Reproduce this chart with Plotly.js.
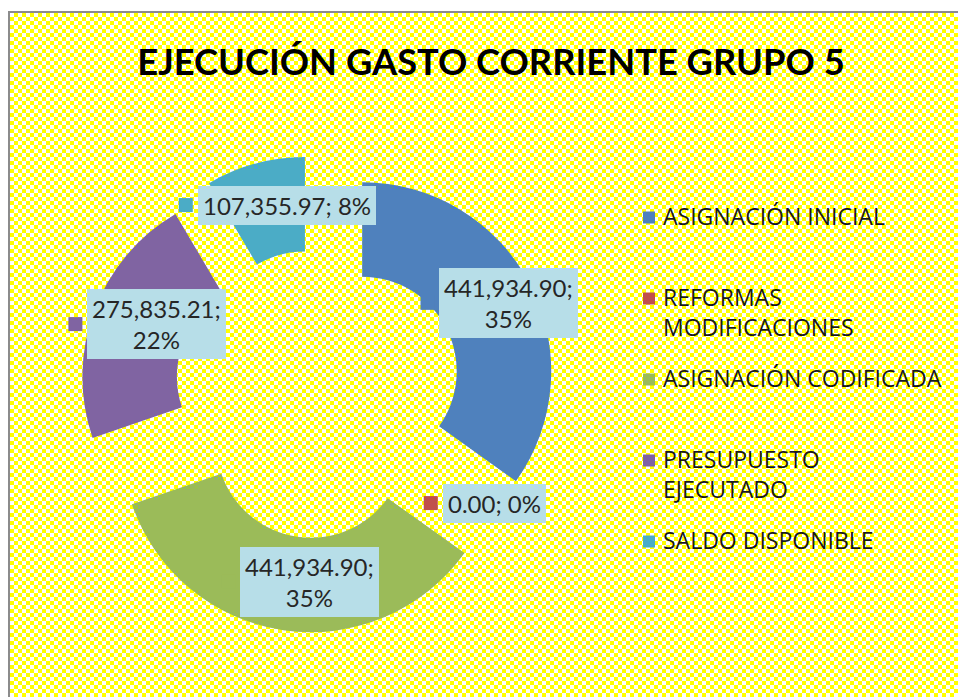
<!DOCTYPE html>
<html><head><meta charset="utf-8">
<script src="https://cdn.plot.ly/plotly-3.0.1.min.js"></script>
<style>
html,body{margin:0;padding:0;background:#fff;overflow:hidden;width:958px;height:697px;}
#bg{position:absolute;left:8px;top:11px;width:980px;height:720px;border-left:2px solid #8c8c8c;border-top:2px solid #8c8c8c;
background-color:#fff;background-image:repeating-conic-gradient(#ffff00 0 25%, #ffffff 0 50%);background-size:8px 8px;}
#chart{position:absolute;left:0;top:0;width:958px;height:697px;}
#chart .legendtext{transform:translateX(-6px);font-size:23px !important;}
#chart .legend .scrollbox{clip-path:none !important;}
</style></head><body><div id="bg"></div><div id="chart"></div>
<script>
// ---- data ----
const categories = ["ASIGNACIÓN INICIAL", "REFORMAS MODIFICACIONES", "ASIGNACIÓN CODIFICADA", "PRESUPUESTO EJECUTADO", "SALDO DISPONIBLE"];
const legendLines = [["ASIGNACIÓN INICIAL"], ["REFORMAS", "MODIFICACIONES"], ["ASIGNACIÓN CODIFICADA"], ["PRESUPUESTO", "EJECUTADO"], ["SALDO DISPONIBLE"]];
const values = [441934.90, 0.00, 441934.90, 275835.21, 107355.97];
const colors = ["#4F81BD", "#C0504D", "#9BBB59", "#8064A2", "#4BACC6"];
const titleText = "EJECUCIÓN GASTO CORRIENTE GRUPO 5";

// ---- layout constants ----
const W = 958, H = 697;
const CX = 318, CY = 394, R = 189, PULL = 0.263, HOLE = 0.5;
const FONT = "Lato, 'Open Sans', sans-serif";
const LEGEND_FONT = "'Open Sans', Lato, sans-serif";
const LABEL_SIZE = 24, PAD = 5, SQ = 14, GAP = 5;
const LABEL_R = 143, LABEL_DX = 10, LABEL_DY = -3;
const LEGEND_SLOT_LINES = 3;

const total = values.reduce((a, b) => a + b, 0);
const fmt = v => v.toLocaleString('en-US', {minimumFractionDigits: 2, maximumFractionDigits: 2});
const half = R * (1 + PULL);

const legendLabels = legendLines.map(ls => {
  const l = ls.slice();
  while (l.length < LEGEND_SLOT_LINES) l.push(' ');
  return l.join('<br>');
});

const pie = {
  type: 'pie', values: values, labels: legendLabels, sort: false, direction: 'clockwise', rotation: 0,
  hole: HOLE, pull: values.map(() => PULL), textinfo: 'none', hoverinfo: 'skip',
  marker: {colors: colors, line: {width: 0}},
  domain: {x: [(CX - half) / W, (CX + half) / W], y: [1 - (CY + half) / H, 1 - (CY - half) / H]},
  showlegend: true
};

const ctx = document.createElement('canvas').getContext('2d');
ctx.font = LABEL_SIZE + 'px ' + FONT;

const annotations = [], shapes = [];
let cum = 0;
values.forEach((v, i) => {
  const theta = 2 * Math.PI * (cum + v / 2) / total;
  cum += v;
  const dx = Math.sin(theta), dy = -Math.cos(theta);
  const pcx = CX + dx * PULL * R, pcy = CY + dy * PULL * R;
  const gx = pcx + dx * LABEL_R + LABEL_DX, gy = pcy + dy * LABEL_R + LABEL_DY;
  const pct = Math.round(v / total * 100) + '%';
  const full = fmt(v) + '; ' + pct;
  const lines = full.length > 14 ? [fmt(v) + ';', pct] : [full];
  const tw = Math.max(...lines.map(l => ctx.measureText(l).width));
  const boxW = tw + 2 * PAD;
  const bx = gx + (SQ + GAP) / 2;
  annotations.push({
    xref: 'paper', yref: 'paper', x: bx / W, y: 1 - gy / H, xanchor: 'center', yanchor: 'middle',
    text: lines.join('<br>'), showarrow: false, bgcolor: '#B7DEE8', borderpad: PAD, borderwidth: 0,
    font: {family: FONT, size: LABEL_SIZE, color: '#262626'}
  });
  const sxr = bx - boxW / 2 - GAP;
  shapes.push({
    type: 'rect', xref: 'paper', yref: 'paper', x0: (sxr - SQ) / W, x1: sxr / W,
    y0: 1 - (gy + SQ / 2) / H, y1: 1 - (gy - SQ / 2) / H, fillcolor: colors[i], line: {width: 0}, layer: 'above'
  });
});

const layout = {
  width: W, height: H, margin: {l: 0, r: 0, t: 0, b: 0},
  paper_bgcolor: 'rgba(0,0,0,0)', plot_bgcolor: 'rgba(0,0,0,0)',
  title: {text: '<b>' + titleText + '</b>', x: 491 / W, xanchor: 'center', y: 1 - 62 / H, yanchor: 'middle', yref: 'container',
          font: {family: FONT, size: 36.3, color: '#000'}},
  legend: {x: 629 / W, xanchor: 'left', y: 1 - 198 / H, yanchor: 'top', valign: 'top', bgcolor: 'rgba(0,0,0,0)',
           font: {family: LEGEND_FONT, size: 20, color: '#1a1a1a'}, tracegroupgap: 0},
  annotations: annotations, shapes: shapes
};

Plotly.newPlot('chart', [pie], layout, {staticPlot: true, displayModeBar: false});
</script></body></html>
